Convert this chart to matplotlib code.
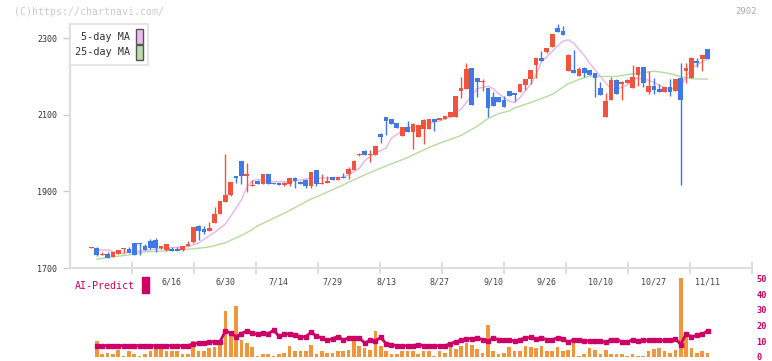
import numpy as np
import matplotlib
matplotlib.use('Agg')
import matplotlib.pyplot as plt
from matplotlib.patches import Patch, Rectangle

plt.rcParams['font.family'] = ['DejaVu Sans Mono']

# daily candles, 5/26 .. 11/11
opens = [1753, 1753, 1735, 1737, 1728, 1737, 1749, 1750, 1765, 1765,
         1757, 1770, 1773, 1753, 1747, 1750, 1750, 1747, 1757, 1768,
         1810, 1802, 1797, 1818, 1841, 1872, 1890, 1940, 1979, 1940,
         1914, 1927, 1919, 1945, 1922, 1922, 1917, 1919, 1935, 1924,
         1930, 1914, 1956, 1920, 1922, 1937, 1930, 1938, 1945, 1956,
         1995, 2006, 1995, 1995, 2050, 2094, 2089, 2079, 2045, 2068,
         2055, 2042, 2063, 2063, 2089, 2086, 2089, 2094, 2094, 2162,
         2167, 2222, 2196, 2185, 2170, 2146, 2146, 2138, 2162, 2157,
         2159, 2177, 2193, 2230, 2248, 2264, 2277, 2327, 2319, 2214,
         2217, 2201, 2222, 2217, 2209, 2170, 2094, 2139, 2191, 2180,
         2183, 2170, 2204, 2225, 2159, 2175, 2167, 2159, 2172, 2162,
         2196, 2214, 2196, 2240, 2246, 2272]
highs = [1755, 1754, 1742, 1742, 1742, 1747, 1751, 1755, 1765, 1765,
         1762, 1776, 1778, 1758, 1762, 1755, 1756, 1757, 1770, 1808,
         1812, 1810, 1820, 1859, 1876, 1998, 1925, 1941, 1980, 1974,
         1930, 1929, 1945, 1945, 1922, 1922, 1925, 1936, 1937, 1928,
         1932, 1951, 1956, 1945, 1940, 1938, 1937, 1949, 1963, 1981,
         2001, 2008, 2008, 2019, 2052, 2095, 2089, 2079, 2068, 2084,
         2079, 2073, 2089, 2090, 2089, 2092, 2097, 2107, 2149, 2199,
         2235, 2222, 2196, 2193, 2170, 2159, 2146, 2149, 2162, 2157,
         2180, 2193, 2217, 2248, 2266, 2274, 2311, 2337, 2332, 2259,
         2269, 2225, 2225, 2217, 2210, 2186, 2157, 2199, 2194, 2188,
         2193, 2230, 2225, 2225, 2214, 2196, 2180, 2173, 2193, 2193,
         2235, 2235, 2250, 2248, 2256, 2272]
lows = [1753, 1732, 1735, 1725, 1728, 1737, 1739, 1738, 1735, 1735,
        1746, 1750, 1743, 1750, 1745, 1744, 1745, 1744, 1757, 1764,
        1773, 1789, 1797, 1818, 1841, 1871, 1889, 1923, 1919, 1898,
        1913, 1918, 1919, 1919, 1920, 1917, 1915, 1915, 1909, 1919,
        1910, 1909, 1914, 1919, 1922, 1930, 1930, 1936, 1933, 1956,
        1992, 1995, 1978, 1995, 2026, 2047, 2077, 2066, 2045, 2055,
        2011, 2042, 2024, 2063, 2058, 2086, 2089, 2094, 2094, 2144,
        2167, 2126, 2147, 2162, 2094, 2123, 2133, 2120, 2149, 2136,
        2159, 2164, 2180, 2196, 2240, 2262, 2277, 2316, 2308, 2214,
        2209, 2201, 2199, 2204, 2146, 2152, 2094, 2139, 2154, 2139,
        2183, 2170, 2175, 2172, 2154, 2154, 2159, 2159, 2149, 2162,
        1917, 2183, 2196, 2225, 2214, 2246]
closes = [1755, 1735, 1737, 1727, 1742, 1747, 1750, 1739, 1735, 1763,
          1747, 1752, 1752, 1757, 1762, 1745, 1745, 1757, 1763, 1807,
          1797, 1794, 1805, 1841, 1875, 1890, 1924, 1935, 1940, 1945,
          1916, 1919, 1945, 1919, 1920, 1917, 1922, 1935, 1927, 1920,
          1914, 1951, 1919, 1922, 1927, 1930, 1937, 1936, 1958, 1979,
          1997, 1996, 1997, 2019, 2042, 2084, 2077, 2066, 2068, 2055,
          2076, 2073, 2086, 2089, 2081, 2092, 2097, 2107, 2149, 2170,
          2220, 2126, 2186, 2188, 2118, 2123, 2133, 2120, 2149, 2152,
          2180, 2193, 2217, 2248, 2240, 2274, 2311, 2316, 2308, 2256,
          2209, 2220, 2209, 2204, 2196, 2152, 2136, 2191, 2154, 2186,
          2191, 2199, 2225, 2183, 2175, 2165, 2159, 2172, 2159, 2193,
          2139, 2222, 2248, 2235, 2256, 2246]

# moving averages (candle index, price)
ma5_idx = [1, 3, 5, 6, 7, 10, 12, 15, 18, 20, 21, 23, 25, 26, 28, 29, 30, 31,
           33, 35, 37, 39, 41, 44, 47, 48, 50, 51, 53, 55, 56, 58, 59, 61, 63,
           65, 67, 69, 71, 72, 74, 75, 76, 78, 79, 80, 82, 83, 84, 86, 87, 88,
           89, 90, 92, 93, 94, 95, 96, 97, 98, 100, 101, 102, 104, 105, 106,
           107, 108, 110, 111, 112, 114, 115]
ma5_val = [1747, 1747, 1739, 1737, 1742, 1745, 1750, 1753, 1756, 1765, 1775,
           1793, 1815, 1835, 1878, 1911, 1927, 1932, 1926, 1925, 1925, 1930,
           1935, 1935, 1937, 1943, 1960, 1980, 2000, 2013, 2039, 2058, 2066,
           2068, 2079, 2084, 2095, 2115, 2150, 2168, 2175, 2168, 2155, 2135,
           2132, 2145, 2180, 2204, 2238, 2265, 2280, 2292, 2296, 2287, 2255,
           2235, 2217, 2200, 2183, 2168, 2166, 2178, 2191, 2196, 2190, 2184,
           2178, 2170, 2167, 2175, 2199, 2222, 2238, 2246]
ma25_idx = [1, 3, 7, 10, 13, 16, 19, 22, 25, 28, 30, 31, 36, 41, 44, 47, 50,
            53, 56, 59, 63, 66, 69, 72, 74, 76, 78, 79, 82, 86, 88, 89, 91,
            93, 96, 98, 100, 103, 105, 107, 109, 110, 112, 115]
ma25_val = [1723, 1728, 1734, 1742, 1744, 1747, 1750, 1755, 1766, 1785, 1800,
            1810, 1843, 1880, 1898, 1917, 1937, 1955, 1972, 1988, 2015, 2031,
            2046, 2070, 2090, 2103, 2110, 2118, 2132, 2153, 2172, 2181, 2192,
            2201, 2200, 2200, 2205, 2210, 2214, 2210, 2204, 2199, 2194, 2193]

# lower panel, from the 2nd candle on
volume = [10.4, 1.6, 2.8, 1.6, 4.7, 0.9, 4.1, 2.2, 0.9, 1.6,
          3.5, 8.5, 6.6, 3.5, 4.1, 3.5, 1.6, 1.6, 10.4, 4.1,
          4.1, 6.0, 6.6, 7.9, 29.3, 13.5, 32.4, 11.0, 9.1, 6.6,
          0.9, 2.2, 2.2, 0.9, 2.2, 2.8, 7.3, 4.1, 4.1, 4.1,
          7.9, 2.2, 4.1, 2.8, 2.8, 4.1, 4.1, 4.7, 10.4, 7.3,
          6.0, 4.7, 16.7, 7.3, 4.1, 2.2, 1.6, 4.1, 3.5, 4.1,
          1.6, 4.1, 3.5, 0.9, 3.5, 2.8, 7.3, 5.4, 7.3, 9.1,
          7.9, 5.4, 2.8, 20.4, 4.1, 1.6, 2.8, 6.6, 3.5, 3.5,
          7.3, 6.6, 6.0, 7.3, 4.1, 4.1, 6.6, 3.5, 4.7, 10.4,
          0.9, 2.2, 6.0, 4.7, 2.2, 4.7, 1.6, 1.6, 2.2, 0.9,
          1.6, 0.9, 0.9, 3.5, 5.4, 6.0, 3.5, 2.8, 4.7, 50.0,
          14.8, 6.0, 2.8, 4.1, 2.8]
ai_predict = [7.2] * 18 + [
    8.5, 8.9, 8.9, 9.7, 9.7, 9.7, 16.5, 15.3, 12.9, 14.9,
    16.6, 15.3, 14.3, 15.3, 14.9, 16.9, 13.3, 14.3, 14.9, 14.1,
    12.9, 12.9, 15.7, 13.3, 12.1, 10.6, 11.7, 12.9, 10.8, 12.1,
    12.3, 12.1, 8.9, 10.6, 10.2, 12.5, 8.5, 7.9,
    7.2, 7.2, 7.2, 7.2, 7.9, 7.2, 7.2, 7.2, 7.2, 7.2,
    8.5, 9.7, 10.6, 11.7, 11.5, 12.1, 11.1, 10.0, 12.1, 11.1,
    10.6, 10.8, 10.0, 11.1, 12.1, 12.5, 11.7, 12.1, 11.1, 11.1,
    12.1, 11.7, 9.3, 11.1, 11.1, 10.2, 10.2, 10.2, 10.2, 9.3,
    11.1, 11.1, 9.7, 9.3, 11.1, 10.0, 10.6, 10.6, 10.6, 10.6,
    10.6, 10.6, 11.7, 7.9, 14.9, 12.9, 13.7, 14.3, 16.7]

date_idx = [15, 25, 35, 45, 55, 65, 75, 85, 95, 105, 115]
date_lbl = ['6/16', '6/30', '7/14', '7/29', '8/13', '8/27', '9/10', '9/26',
            '10/10', '10/27', '11/11']

UP, DOWN = '#f0543f', '#4078e6'
GRID = '#dedede'

fig = plt.figure(figsize=(7.72, 3.61), dpi=100)
W, H = 772.0, 361.0
x0, x1 = 70 / W, 752 / W
axv = fig.add_axes([x0, (H - 357) / H, x1 - x0, (357 - 278.3) / H])
ax = fig.add_axes([x0, (H - 268) / H, x1 - x0, (268 - 24) / H], sharex=axv)
ax.patch.set_alpha(0)
axv.patch.set_alpha(0)

n = len(closes)
idx = np.arange(n)
o, h, l, c = map(np.array, (opens, highs, lows, closes))
col = np.where(c >= o, UP, DOWN)

ax.plot(ma25_idx, ma25_val, color='#b5dba0', lw=1.0, zorder=1)
ax.plot(ma5_idx, ma5_val, color='#e8b4ea', lw=1.0, zorder=1)
ax.vlines(idx, l, h, colors=col, lw=1.0, zorder=2)
body = np.maximum(np.abs(c - o), 2.5)
ax.bar(idx, body, bottom=np.minimum(o, c), width=0.88, color=col, zorder=3)

xlim = (-4.0, 123.3)
ax.set_xlim(*xlim)
ax.set_ylim(1700, 2337)
for s in ['top', 'right']:
    ax.spines[s].set_visible(False)
for s in ['left', 'bottom']:
    ax.spines[s].set_color(GRID)
    ax.spines[s].set_linewidth(1.6)
ax.set_yticks([1700, 1900, 2100, 2300])
ax.tick_params(axis='y', length=5, width=1, color='#cccccc', labelsize=6,
               labelcolor='#333333', pad=4)
ax.set_xticks([xlim[0] + (xlim[1] - xlim[0]) * k / 11 for k in range(1, 12)])
ax.tick_params(axis='x', direction='inout', length=9, width=1.4, color=GRID,
               labelbottom=False)
for i, lb in zip(date_idx, date_lbl):
    ax.annotate(lb, xy=(i, 0), xycoords=('data', 'axes fraction'),
                xytext=(0, -10), textcoords='offset points', ha='center',
                va='center', fontsize=6, color='#444444',
                annotation_clip=False)

leg = ax.legend(handles=[Patch(facecolor='#eebbee', edgecolor='#555555', lw=1),
                         Patch(facecolor='#bbddaa', edgecolor='#555555', lw=1)],
                labels=['5-day MA', '25-day MA'], loc='upper left',
                bbox_to_anchor=(0, 1), borderaxespad=0, markerfirst=False,
                handlelength=0.7, handleheight=1.9, handletextpad=0.6,
                labelspacing=0.05, borderpad=0.5, fancybox=False,
                prop={'size': 7.3}, labelcolor='#333333')
leg.get_frame().set_edgecolor(GRID)
leg.get_frame().set_linewidth(1.4)

# lower panel
vx = np.arange(1, n)
axv.bar(vx, volume, width=0.68, color='#f0963c', zorder=1)
axv.plot(vx, ai_predict, color='#cc0066', lw=2.0, marker='s', ms=2.2,
         zorder=2)
axv.set_ylim(0, 50)
for s in axv.spines.values():
    s.set_visible(False)
axv.yaxis.tick_right()
axv.set_yticks([0, 10, 20, 30, 40, 50])
axv.tick_params(axis='y', length=0, labelsize=6.2, labelcolor='#cc0066', pad=3)
for t in axv.get_yticklabels():
    t.set_fontweight('bold')
axv.tick_params(axis='x', length=0, labelbottom=False)

fig.text(75 / W, 1 - 286 / H, 'AI-Predict', fontsize=7.2, color='#cc0066',
         va='center', ha='left')
fig.add_artist(Rectangle((142 / W, 1 - 293 / H), 7 / W, 16 / H,
                         transform=fig.transFigure, color='#cc0066'))
fig.text(14 / W, 1 - 12 / H, '(C)https://chartnavi.com/', fontsize=7.1,
         color='#cccccc', va='center', ha='left')
fig.text(757 / W, 1 - 12 / H, '2902', fontsize=6.5, color='#aaaaaa',
         va='center', ha='right')

fig.savefig('out.png', dpi=100, facecolor='white')
